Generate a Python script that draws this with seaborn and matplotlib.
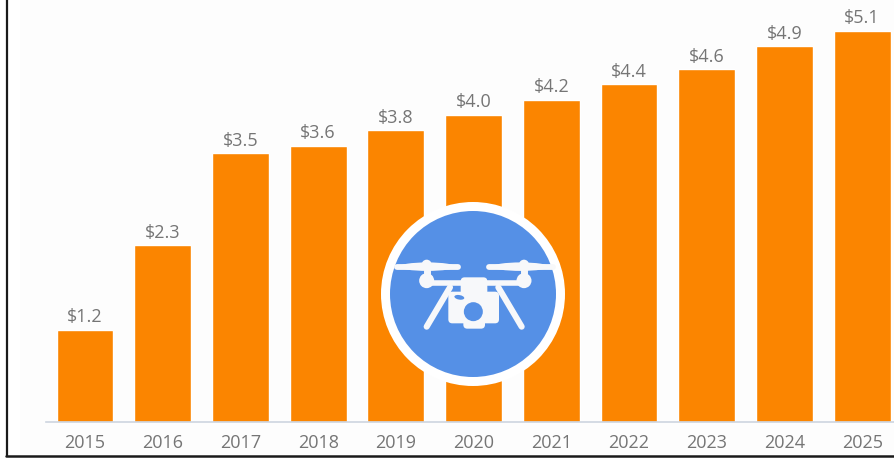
import matplotlib
matplotlib.use("Agg")
import matplotlib.pyplot as plt
from matplotlib.patches import Circle, Ellipse, FancyBboxPatch, Rectangle
from matplotlib.lines import Line2D
import pandas as pd
import seaborn as sns

years = ["2015", "2016", "2017", "2018", "2019", "2020", "2021", "2022", "2023", "2024", "2025"]
revenue = [1.2, 2.3, 3.5, 3.6, 3.8, 4.0, 4.2, 4.4, 4.6, 4.9, 5.1]

W, H = 894, 462
BAR = "#fb8500"
TEXT = "#757575"
BLUE = "#5590e6"
ICON = "#f7f8fa"
PAPER = "#fdfdfd"

sns.set_theme(style="white", rc={"font.family": ["Open Sans", "DejaVu Sans"]})
fig = plt.figure(figsize=(W / 100, H / 100), dpi=100, facecolor="white")

# Plot area: baseline near y=421.5, bar centres 77.7 px apart
BASE = 421.5
ax = fig.add_axes([46 / W, (H - BASE) / H, (W - 46) / W, BASE / H])
ax.set_facecolor("none")
df = pd.DataFrame({"year": years, "revenue": revenue})
sns.barplot(data=df, x="year", y="revenue", color=BAR, saturation=1, width=0.73, ax=ax)
ax.set_xlim(-0.502, 10.41)
ax.set_ylim(0, BASE / 76.6)
ax.set_xlabel("")
ax.set_ylabel("")
ax.set_yticks([])
for side in ("top", "left", "right"):
    ax.spines[side].set_visible(False)
ax.spines["bottom"].set_color("#cdd5e0")
ax.spines["bottom"].set_linewidth(1.2)
ax.tick_params(axis="x", length=0, pad=9.2, labelsize=13, labelcolor=TEXT)
ax.bar_label(ax.containers[0], labels=[f"${v:.1f}" for v in revenue],
             padding=2.6, fontsize=13, color=TEXT, parse_math=False)

# Pixel-space overlay for the frame and the drone badge
ov = fig.add_axes([0, 0, 1, 1], facecolor="none")
ov.set_xlim(0, W)
ov.set_ylim(H, 0)
ov.axis("off")

# Paper tint behind the chart, kept below the bars
fig.patches.append(Rectangle((20 / W, 8 / H), (W - 20) / W, 1 - 8 / H, transform=fig.transFigure,
                             facecolor=PAPER, edgecolor="none", zorder=-5))

ov.add_line(Line2D([6.5, 6.5], [0, 456], color="#1a1a1a", lw=1.6))
ov.add_line(Line2D([6, W], [456, 456], color="#1a1a1a", lw=1.8))

CX, CY = 473, 294
ov.add_patch(Circle((CX, CY), 92, facecolor="white", edgecolor="none"))
ov.add_patch(Circle((CX, CY), 83, facecolor=BLUE, edgecolor="none"))


def px(zx, zy):
    """Badge artwork is laid out on a 3x grid anchored at (370, 190)."""
    return 370 + zx / 3, 190 + zy / 3


def stroke(p0, p1, width):
    a, b = px(*p0), px(*p1)
    ov.add_line(Line2D([a[0], b[0]], [a[1], b[1]], color=ICON, lw=width,
                       solid_capstyle="round"))


def rounded(z0, z1, radius):
    x0, y0 = px(*z0)
    x1, y1 = px(*z1)
    ov.add_patch(FancyBboxPatch((x0 + radius, y0 + radius), x1 - x0 - 2 * radius, y1 - y0 - 2 * radius,
                                boxstyle=f"round,pad={radius}", facecolor=ICON, edgecolor="none"))


for hub_x, tip_l, tip_r in ((170, 72, 272), (462, 348, 556)):
    # Rotor blade with rounded tips and a swollen middle
    stroke((tip_l + 8, 230), (tip_r - 8, 230), 4.2)
    ov.add_patch(Ellipse(px((tip_l + tip_r) / 2, 230), 56, 8.5, facecolor=ICON, edgecolor="none"))
    ov.add_patch(Circle(px(hub_x, 224), 5, facecolor=ICON, edgecolor="none"))
    stroke((hub_x, 225), (hub_x, 270), 5)
    ov.add_patch(Circle(px(hub_x, 272), 7.5, facecolor=ICON, edgecolor="none"))

stroke((170, 278), (462, 278), 4)
stroke((240, 292), (170, 410), 4.4)
stroke((385, 292), (455, 410), 4.4)

# Camera body, top hump, bottom lip and lens
rounded((235, 305), (387, 400), 4)
rounded((272, 262), (352, 315), 4)
rounded((280, 380), (345, 416), 4)
ov.add_patch(Circle(px(310, 365), 9.5, facecolor=BLUE, edgecolor="none"))
ov.add_patch(Ellipse(px(268, 322), 10, 4.5, angle=10, facecolor=BLUE, edgecolor="none"))

fig.savefig("out.png", dpi=100)
